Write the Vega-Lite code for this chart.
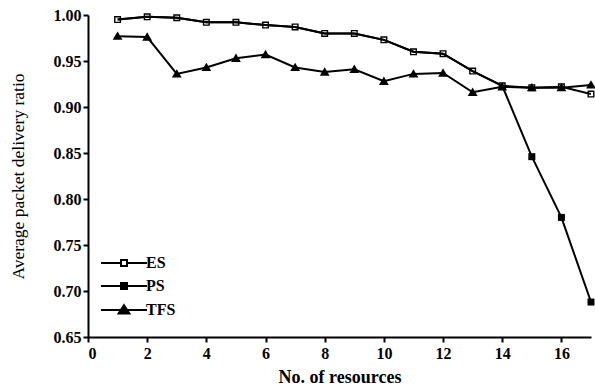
{
  "$schema": "https://vega.github.io/schema/vega-lite/v6.json",
  "width": 503,
  "height": 322,
  "autosize": {"type": "none"},
  "padding": {"left": 88, "top": 15, "right": 4, "bottom": 51},
  "background": "white",
  "config": {
    "view": {"stroke": null},
    "axis": {
      "grid": false,
      "domainColor": "black",
      "domainWidth": 2,
      "tickColor": "black",
      "tickWidth": 2,
      "tickSize": 5,
      "labelFont": "Liberation Serif",
      "labelFontSize": 16,
      "labelFontWeight": "bold",
      "labelColor": "black",
      "titleFont": "Liberation Serif",
      "titleColor": "black"
    },
    "legend": {
      "orient": "none",
      "legendX": 28,
      "legendY": 240,
      "padding": 0,
      "symbolSize": 36,
      "symbolStrokeWidth": 2,
      "labelFont": "Liberation Serif",
      "labelFontSize": 16,
      "labelFontWeight": "bold",
      "labelColor": "black",
      "labelOffset": 14,
      "rowPadding": 7
    }
  },
  "data": {
    "values": [
      {"x": 1, "v": 0.995, "s": "PS"}, {"x": 2, "v": 0.998, "s": "PS"}, {"x": 3, "v": 0.997, "s": "PS"},
      {"x": 4, "v": 0.992, "s": "PS"}, {"x": 5, "v": 0.992, "s": "PS"}, {"x": 6, "v": 0.989, "s": "PS"},
      {"x": 7, "v": 0.987, "s": "PS"}, {"x": 8, "v": 0.980, "s": "PS"}, {"x": 9, "v": 0.980, "s": "PS"},
      {"x": 10, "v": 0.973, "s": "PS"}, {"x": 11, "v": 0.960, "s": "PS"}, {"x": 12, "v": 0.958, "s": "PS"},
      {"x": 13, "v": 0.939, "s": "PS"}, {"x": 14, "v": 0.923, "s": "PS"}, {"x": 15, "v": 0.846, "s": "PS"},
      {"x": 16, "v": 0.780, "s": "PS"}, {"x": 17, "v": 0.688, "s": "PS"},
      {"x": 1, "v": 0.995, "s": "ES"}, {"x": 2, "v": 0.998, "s": "ES"}, {"x": 3, "v": 0.997, "s": "ES"},
      {"x": 4, "v": 0.992, "s": "ES"}, {"x": 5, "v": 0.992, "s": "ES"}, {"x": 6, "v": 0.989, "s": "ES"},
      {"x": 7, "v": 0.987, "s": "ES"}, {"x": 8, "v": 0.980, "s": "ES"}, {"x": 9, "v": 0.980, "s": "ES"},
      {"x": 10, "v": 0.973, "s": "ES"}, {"x": 11, "v": 0.960, "s": "ES"}, {"x": 12, "v": 0.958, "s": "ES"},
      {"x": 13, "v": 0.939, "s": "ES"}, {"x": 14, "v": 0.923, "s": "ES"}, {"x": 15, "v": 0.921, "s": "ES"},
      {"x": 16, "v": 0.922, "s": "ES"}, {"x": 17, "v": 0.914, "s": "ES"},
      {"x": 1, "v": 0.977, "s": "TFS"}, {"x": 2, "v": 0.976, "s": "TFS"}, {"x": 3, "v": 0.936, "s": "TFS"},
      {"x": 4, "v": 0.943, "s": "TFS"}, {"x": 5, "v": 0.953, "s": "TFS"}, {"x": 6, "v": 0.957, "s": "TFS"},
      {"x": 7, "v": 0.943, "s": "TFS"}, {"x": 8, "v": 0.938, "s": "TFS"}, {"x": 9, "v": 0.941, "s": "TFS"},
      {"x": 10, "v": 0.928, "s": "TFS"}, {"x": 11, "v": 0.936, "s": "TFS"}, {"x": 12, "v": 0.937, "s": "TFS"},
      {"x": 13, "v": 0.916, "s": "TFS"}, {"x": 14, "v": 0.922, "s": "TFS"}, {"x": 15, "v": 0.921, "s": "TFS"},
      {"x": 16, "v": 0.921, "s": "TFS"}, {"x": 17, "v": 0.924, "s": "TFS"}
    ]
  },
  "encoding": {
    "x": {
      "field": "x", "type": "quantitative",
      "scale": {"domain": [0, 17], "nice": false},
      "axis": {"values": [0, 2, 4, 6, 8, 10, 12, 14, 16], "title": "No. of resources", "titleFontSize": 18, "titleFontWeight": "bold", "titlePadding": 7, "labelPadding": 3}
    },
    "y": {
      "field": "v", "type": "quantitative",
      "scale": {"domain": [0.65, 1.0], "nice": false, "zero": false},
      "axis": {"values": [0.65, 0.7, 0.75, 0.8, 0.85, 0.9, 0.95, 1.0], "format": ".2f", "title": "Average packet delivery ratio", "titleFontSize": 17.5, "titleFontWeight": "normal", "titlePadding": 26, "labelPadding": 2}
    }
  },
  "layer": [
    {
      "mark": {"type": "line", "strokeWidth": 2, "clip": true},
      "encoding": {
        "color": {
          "field": "s", "type": "nominal",
          "scale": {"domain": ["ES", "PS", "TFS"], "range": ["black", "black", "black"]},
          "legend": {
            "title": null,
            "encode": {
              "symbols": {
                "update": {
                  "shape": {"signal": "datum.value === 'ES' ? 'M-7.67,0L-1,0M1,0L7.67,0M-1,-1L1,-1L1,1L-1,1Z' : (datum.value === 'PS' ? 'M-7.67,0L7.67,0M-1,-1L1,-1L1,1L-1,1Z' : 'M-7.67,0L7.67,0M0,-1.6L1.8,1.2L-1.8,1.2Z')"},
                  "fill": {"signal": "datum.value === 'ES' ? 'white' : 'black'"},
                  "stroke": {"value": "black"},
                  "strokeWidth": {"value": 2}
                }
              }
            }
          }
        }
      }
    },
    {
      "transform": [{"filter": "datum.s === 'ES'"}],
      "mark": {"type": "point", "shape": "M-1,-1H1V1H-1ZM-0.6,-0.6V0.6H0.6V-0.6Z", "filled": true, "fill": "black", "opacity": 1, "strokeWidth": 0, "clip": false, "size": 49}
    },
    {
      "transform": [{"filter": "datum.s === 'PS' && datum.x > 14"}],
      "mark": {"type": "point", "shape": "square", "filled": true, "fill": "black", "opacity": 1, "strokeWidth": 0, "clip": false, "size": 49}
    },
    {
      "transform": [{"filter": "datum.s === 'TFS'"}],
      "mark": {"type": "point", "shape": "M0,-1.35L1.4,1.05L-1.4,1.05Z", "filled": true, "fill": "black", "opacity": 1, "strokeWidth": 0, "clip": false, "size": 49}
    }
  ]
}
